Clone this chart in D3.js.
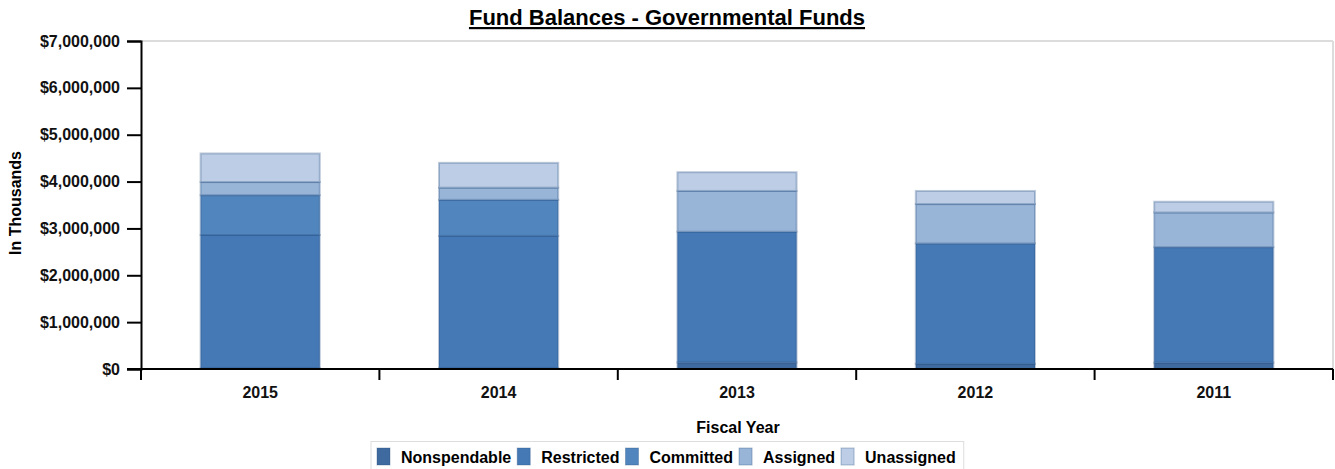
<!DOCTYPE html>
<html>
  <head>
    <meta charset="utf-8">
    <title>Fund Balances - Governmental Funds</title>
    <script src="https://d3js.org/d3.v7.min.js"></script>
    <style>
      body { margin: 0; background: #fff; font-family: Arial, "Liberation Sans", sans-serif; }
      .tick text { font-weight: bold; font-size: 16px; fill: #111; }
    </style>
  </head>
  <body>
    <div id="chart"></div>
    <script>
      // data (in thousands)
      var years = ["2015", "2014", "2013", "2012", "2011"];
      var seriesNames = ["Nonspendable", "Restricted", "Committed", "Assigned", "Unassigned"];
      var nonspendable = [20000, 20000, 140000, 110000, 135000];
      var restricted   = [2840000, 2820000, 2790000, 2570000, 2465000];
      var committed    = [850000, 770000, 0, 0, 0];
      var assigned     = [280000, 260000, 870000, 840000, 740000];
      var unassigned   = [610000, 530000, 400000, 280000, 230000];
      var yTicks = [0, 1000000, 2000000, 3000000, 4000000, 5000000, 6000000, 7000000];

      var colors = ["#3e6a9f", "#4579b5", "#5185bd", "#98b5d8", "#bccde5"];

      var W = 1335, H = 469;
      var margin = {top: 41, right: 2, bottom: 100, left: 141};
      var width = W - margin.left - margin.right,
          height = 369 - margin.top;

      var svg = d3.select("#chart").append("svg")
          .attr("width", W).attr("height", H);

      var table = years.map(function(y, i) {
        return {year: y, Nonspendable: nonspendable[i], Restricted: restricted[i],
                Committed: committed[i], Assigned: assigned[i], Unassigned: unassigned[i]};
      });
      var stacked = d3.stack().keys(seriesNames)(table);

      var x = d3.scaleBand().domain(years).range([0, width]).paddingInner(0.5).paddingOuter(0.25);
      var y = d3.scaleLinear().domain([0, 7000000]).range([height, 0]);

      var g = svg.append("g").attr("transform", "translate(" + margin.left + "," + margin.top + ")");

      // title
      svg.append("text")
        .attr("x", 667).attr("y", 25)
        .attr("text-anchor", "middle")
        .style("font-size", "22px").style("font-weight", "bold")
        .style("text-decoration", "underline")
        .text("Fund Balances - Governmental Funds");

      // plot frame (top gridline + right border)
      g.append("line").attr("x1", 0).attr("x2", width).attr("y1", y(7000000)).attr("y2", y(7000000))
        .attr("stroke", "#dcdcdc").attr("stroke-width", 2);
      g.append("line").attr("x1", width).attr("x2", width).attr("y1", 0).attr("y2", height)
        .attr("stroke", "#dcdcdc").attr("stroke-width", 2);

      // bars
      g.selectAll(".series").data(stacked).enter().append("g")
          .attr("fill", function(d, i) { return colors[i]; })
        .selectAll("rect").data(function(d) { return d; }).enter().append("rect")
          .filter(function(d) { return d[1] > d[0]; })
          .attr("x", function(d) { return x(d.data.year); })
          .attr("width", x.bandwidth())
          .attr("y", function(d) { return y(d[1]); })
          .attr("height", function(d) { return y(d[0]) - y(d[1]); })
          .attr("stroke", "rgba(40,80,130,0.3)")
          .attr("stroke-width", 2);

      // y axis
      var yAxis = g.append("g")
        .call(d3.axisLeft(y).tickValues(yTicks).tickSize(14).tickPadding(7)
          .tickFormat(function(d) { return "$" + d3.format(",")(d); }));
      yAxis.select(".domain").attr("stroke", "#000").attr("stroke-width", 2);
      yAxis.selectAll(".tick line").attr("stroke", "#000").attr("stroke-width", 2);

      // x axis
      var xAxis = g.append("g").attr("transform", "translate(0," + height + ")")
        .call(d3.axisBottom(x).tickSize(0).tickPadding(18));
      xAxis.select(".domain").remove();
      xAxis.append("line").attr("x1", -14).attr("x2", width).attr("stroke", "#000").attr("stroke-width", 2);
      xAxis.selectAll(".sep").data(d3.range(years.length + 1)).enter().append("line")
        .attr("x1", function(i) { return i * width / years.length; })
        .attr("x2", function(i) { return i * width / years.length; })
        .attr("y1", 0).attr("y2", 11)
        .attr("stroke", "#000").attr("stroke-width", 2);

      // axis titles
      svg.append("text")
        .attr("x", 738).attr("y", 433)
        .attr("text-anchor", "middle")
        .style("font-size", "16px").style("font-weight", "bold")
        .text("Fiscal Year");
      svg.append("text")
        .attr("transform", "translate(21,203) rotate(-90)")
        .attr("text-anchor", "middle")
        .style("font-size", "16px").style("font-weight", "bold")
        .text("In Thousands");

      // legend
      var legend = svg.append("g");
      var lx = 377;
      seriesNames.forEach(function(name, i) {
        var it = legend.append("g").attr("transform", "translate(" + lx + ",0)");
        it.append("rect").attr("x", 0).attr("y", 448).attr("width", 13).attr("height", 17)
          .attr("fill", colors[i]).attr("stroke", "rgba(40,80,130,0.35)");
        var t = it.append("text").attr("x", 24).attr("y", 463)
          .style("font-size", "16px").style("font-weight", "bold").text(name);
        lx += 24 + t.node().getComputedTextLength() + 6;
      });
      legend.insert("rect", ":first-child")
        .attr("x", 371).attr("y", 441.5).attr("width", lx - 371 + 2).attr("height", 30)
        .attr("fill", "#fff").attr("stroke", "#ddd");
    </script>
  </body>
</html>
